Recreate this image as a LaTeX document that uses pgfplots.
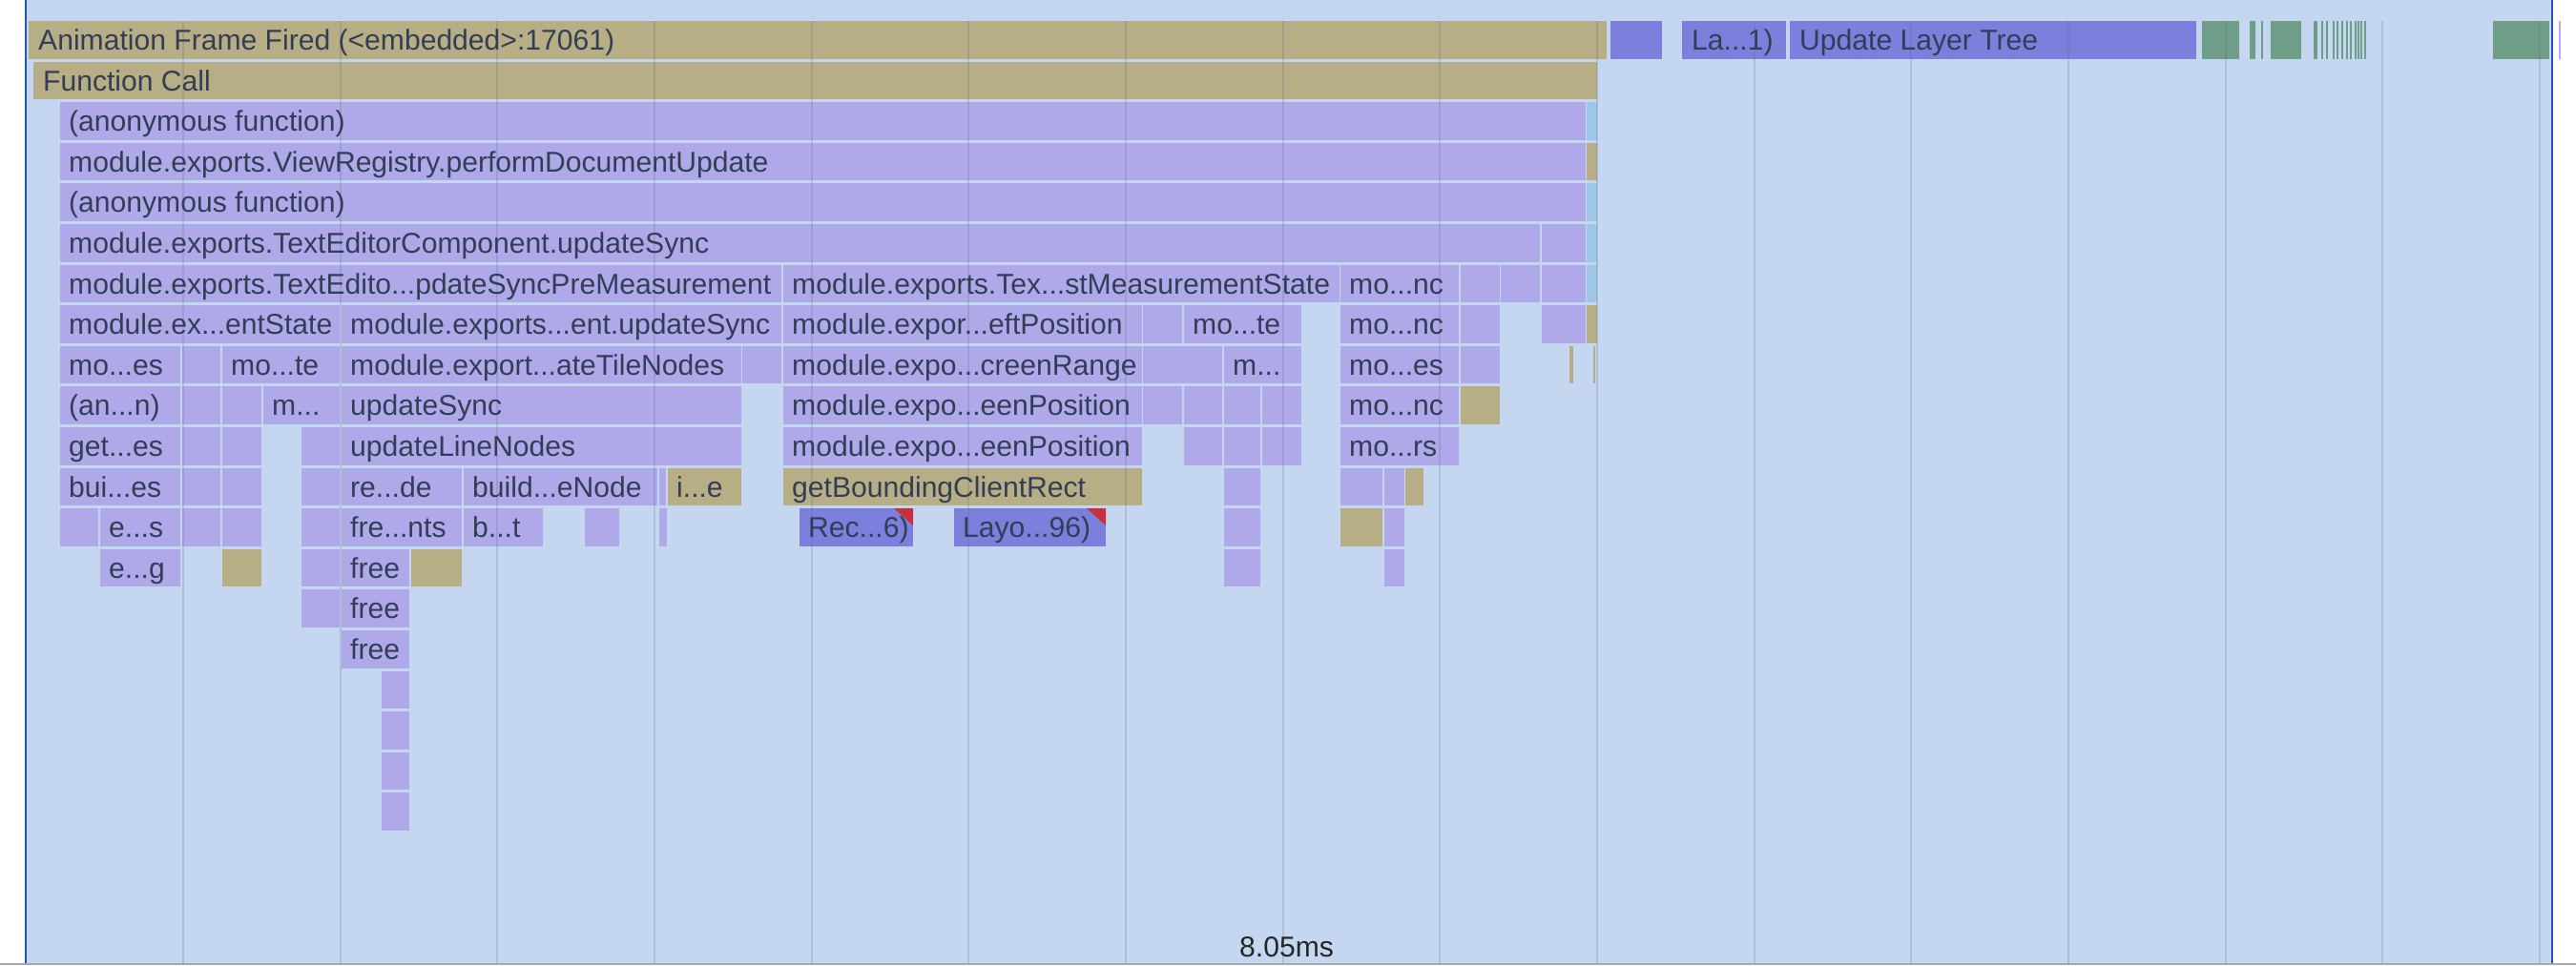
\documentclass[border=0pt]{standalone}
\usepackage{fontspec}
\setmainfont{Liberation Sans}
\usepackage{pgfplots}
\pgfplotsset{compat=1.18}
\definecolor{bg}{HTML}{C5D7F0}
\definecolor{lav}{HTML}{AFA9E9}
\definecolor{tan}{HTML}{B8AE85}
\definecolor{dblue}{HTML}{7C80DC}
\definecolor{green}{HTML}{6E9E88}
\definecolor{lblue}{HTML}{9EC6E6}
\definecolor{redc}{HTML}{C8303C}
\definecolor{txtc}{HTML}{323E56}
\definecolor{gridc}{HTML}{5A6A8A}
\definecolor{borderc}{HTML}{2653B8}
\definecolor{grayc}{HTML}{A8A8A8}
\definecolor{thinlav}{HTML}{B8A8F4}
\newcommand\lbl{\fontsize{30.1}{36}\selectfont}
\newcommand\B[4]{%
  \pgfmathsetmacro\yA{22+42.6*#3}%
  \pgfmathsetmacro\yB{\yA+39.5}%
  \edef\tmp{\noexpand\addplot[draw=none,fill=#4,forget plot] coordinates {(#1,\yA) (#2,\yA) (#2,\yB) (#1,\yB)} -- cycle;}%
  \tmp}
\newcommand\T[3]{%
  \pgfmathsetmacro\yT{22+42.6*#2+30.5}%
  \edef\tmp{\noexpand\node[anchor=base west,inner sep=0pt,font=\noexpand\lbl,text=txtc] at (axis cs:#1,\yT)}%
  \tmp{#3};}
\newcommand\G[1]{\addplot[draw=gridc,draw opacity=0.22,line width=2pt,forget plot] coordinates {(#1,22) (#1,1010)};}
\begin{document}
\begin{tikzpicture}
\begin{axis}[scale only axis, width=2700pt, height=1012pt,
  xmin=0, xmax=2700, ymin=0, ymax=1012, y dir=reverse, hide axis]
% background
\addplot[draw=none,fill=white] coordinates {(0,0) (2700,0) (2700,1012) (0,1012)} -- cycle;
\addplot[draw=none,fill=bg] coordinates {(27,0) (2675,0) (2675,1010) (27,1010)} -- cycle;
\addplot[draw=none,fill=grayc] coordinates {(0,1009.5) (2700,1009.5) (2700,1012) (0,1012)} -- cycle;
% row 0
\B{30}{1684}{0}{tan}
\B{1688}{1742}{0}{dblue}
\B{1763}{1872}{0}{dblue}
\B{1876}{2302}{0}{dblue}
\B{2308}{2347}{0}{green}
\B{2358}{2364}{0}{green}
\B{2370}{2372}{0}{green}
\B{2380}{2412}{0}{green}
\B{2425}{2429}{0}{green}
\B{2433}{2435}{0}{green}
\B{2438}{2440}{0}{green}
\B{2445}{2447}{0}{green}
\B{2449}{2451}{0}{green}
\B{2454}{2456}{0}{green}
\B{2459}{2461}{0}{green}
\B{2463}{2465}{0}{green}
\B{2468}{2470}{0}{green}
\B{2471}{2473}{0}{green}
\B{2474}{2476}{0}{green}
\B{2478}{2480}{0}{green}
\B{2613}{2672}{0}{green}
\B{2682}{2684}{0}{thinlav}
% row 1
\B{35}{1674}{1}{tan}
% row 2-5
\B{63}{1662}{2}{lav} \B{1663}{1674}{2}{lblue}
\B{63}{1662}{3}{lav} \B{1663}{1674}{3}{tan}
\B{63}{1662}{4}{lav} \B{1663}{1674}{4}{lblue}
\B{63}{1614}{5}{lav} \B{1616}{1662}{5}{lav} \B{1663}{1674}{5}{lblue}
% row 6
\B{63}{819}{6}{lav} \B{821}{1404}{6}{lav} \B{1405}{1529}{6}{lav} \B{1531}{1572}{6}{lav}
\B{1573}{1614}{6}{lav} \B{1616}{1662}{6}{lav} \B{1663}{1674}{6}{lblue}
% row 7
\B{63}{356}{7}{lav} \B{358}{819}{7}{lav} \B{821}{1197}{7}{lav} \B{1198}{1239}{7}{lav}
\B{1241}{1364}{7}{lav} \B{1405}{1529}{7}{lav} \B{1531}{1572}{7}{lav} \B{1616}{1662}{7}{lav}
\B{1663}{1674}{7}{tan}
% row 8
\B{63}{189}{8}{lav} \B{191}{231}{8}{lav} \B{233}{356}{8}{lav} \B{358}{777}{8}{lav}
\B{778}{819}{8}{lav} \B{821}{1197}{8}{lav} \B{1198}{1281}{8}{lav} \B{1283}{1364}{8}{lav}
\B{1405}{1529}{8}{lav} \B{1531}{1572}{8}{lav} \B{1645}{1649}{8}{tan} \B{1670}{1672}{8}{tan}
% row 9
\B{63}{189}{9}{lav} \B{191}{231}{9}{lav} \B{233}{274}{9}{lav} \B{276}{356}{9}{lav}
\B{358}{777}{9}{lav} \B{821}{1197}{9}{lav} \B{1198}{1239}{9}{lav} \B{1241}{1281}{9}{lav}
\B{1283}{1321}{9}{lav} \B{1323}{1364}{9}{lav} \B{1405}{1529}{9}{lav} \B{1531}{1572}{9}{tan}
% row 10
\B{63}{189}{10}{lav} \B{191}{231}{10}{lav} \B{233}{274}{10}{lav} \B{316}{356}{10}{lav}
\B{358}{777}{10}{lav} \B{821}{1197}{10}{lav} \B{1241}{1281}{10}{lav} \B{1283}{1321}{10}{lav}
\B{1323}{1364}{10}{lav} \B{1405}{1529}{10}{lav}
% row 11
\B{63}{189}{11}{lav} \B{191}{231}{11}{lav} \B{233}{274}{11}{lav} \B{316}{356}{11}{lav}
\B{358}{484}{11}{lav} \B{486}{689}{11}{lav} \B{691}{698}{11}{lav} \B{700}{777}{11}{tan}
\B{821}{1197}{11}{tan} \B{1283}{1321}{11}{lav} \B{1405}{1449}{11}{lav} \B{1451}{1472}{11}{lav}
\B{1473}{1492}{11}{tan}
% row 12
\B{63}{103}{12}{lav} \B{105}{189}{12}{lav} \B{191}{231}{12}{lav} \B{233}{274}{12}{lav}
\B{316}{356}{12}{lav} \B{358}{484}{12}{lav} \B{486}{569}{12}{lav} \B{613}{649}{12}{lav}
\B{691}{699}{12}{lav} \B{838}{957}{12}{dblue} \B{1000}{1159}{12}{dblue} \B{1283}{1321}{12}{lav}
\B{1405}{1449}{12}{tan} \B{1451}{1472}{12}{lav}
\addplot[draw=none,fill=redc,forget plot] coordinates {(937,533.2) (957,533.2) (957,551)} -- cycle;
\addplot[draw=none,fill=redc,forget plot] coordinates {(1139,533.2) (1159,533.2) (1159,551)} -- cycle;
% row 13
\B{105}{189}{13}{lav} \B{233}{274}{13}{tan} \B{316}{356}{13}{lav} \B{358}{429}{13}{lav}
\B{431}{484}{13}{tan} \B{1283}{1321}{13}{lav} \B{1451}{1472}{13}{lav}
% row 14-19
\B{316}{356}{14}{lav} \B{358}{429}{14}{lav}
\B{358}{429}{15}{lav}
\B{400}{429}{16}{lav} \B{400}{429}{17}{lav} \B{400}{429}{18}{lav} \B{400}{429}{19}{lav}
% grid lines
\G{192} \G{356.7} \G{521.3} \G{686} \G{850.7} \G{1015.4} \G{1180} \G{1344.7}
\G{1509.4} \G{1674} \G{1838.7} \G{2003.4} \G{2168} \G{2332.7} \G{2497.4} \G{2662}
% borders
\addplot[draw=borderc,line width=2.2pt,forget plot] coordinates {(27,0) (27,1010)};
\addplot[draw=borderc,line width=2.2pt,forget plot] coordinates {(2675,0) (2675,1010)};
% labels
\T{40}{0}{Animation Frame Fired (<embedded>:17061)}
\T{1773}{0}{La...1)}
\T{1886}{0}{Update Layer Tree}
\T{45}{1}{Function Call}
\T{72}{2}{(anonymous function)}
\T{72}{3}{module.exports.ViewRegistry.performDocumentUpdate}
\T{72}{4}{(anonymous function)}
\T{72}{5}{module.exports.TextEditorComponent.updateSync}
\T{72}{6}{module.exports.TextEdito...pdateSyncPreMeasurement}
\T{830}{6}{module.exports.Tex...stMeasurementState}
\T{1414}{6}{mo...nc}
\T{72}{7}{module.ex...entState}
\T{367}{7}{module.exports...ent.updateSync}
\T{830}{7}{module.expor...eftPosition}
\T{1250}{7}{mo...te}
\T{1414}{7}{mo...nc}
\T{72}{8}{mo...es}
\T{242}{8}{mo...te}
\T{367}{8}{module.export...ateTileNodes}
\T{830}{8}{module.expo...creenRange}
\T{1292}{8}{m...}
\T{1414}{8}{mo...es}
\T{72}{9}{(an...n)}
\T{285}{9}{m...}
\T{367}{9}{updateSync}
\T{830}{9}{module.expo...eenPosition}
\T{1414}{9}{mo...nc}
\T{72}{10}{get...es}
\T{367}{10}{updateLineNodes}
\T{830}{10}{module.expo...eenPosition}
\T{1414}{10}{mo...rs}
\T{72}{11}{bui...es}
\T{367}{11}{re...de}
\T{495}{11}{build...eNode}
\T{709}{11}{i...e}
\T{830}{11}{getBoundingClientRect}
\T{114}{12}{e...s}
\T{367}{12}{fre...nts}
\T{495}{12}{b...t}
\T{847}{12}{Rec...6)}
\T{1009}{12}{Layo...96)}
\T{114}{13}{e...g}
\T{367}{13}{free}
\T{367}{14}{free}
\T{367}{15}{free}
\node[anchor=base west,inner sep=0pt,font=\lbl,text=black!85] at (axis cs:1299,1003) {8.05ms};
\end{axis}
\end{tikzpicture}
\end{document}
